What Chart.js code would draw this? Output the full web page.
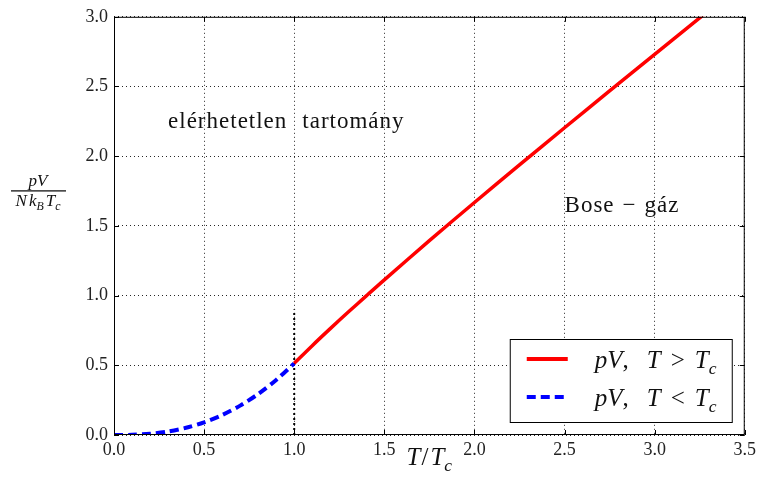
<!DOCTYPE html>
<html>
<head>
<meta charset="utf-8">
<script src="https://cdn.jsdelivr.net/npm/chart.js@4/dist/chart.umd.min.js"></script>
<style>
html,body{margin:0;padding:0;background:#fff;}
canvas{display:block;}
</style>
</head>
<body>
<canvas id="c" width="760" height="491"></canvas>
<script>
// ---- data ----
const tAbove = [1.0, 1.1, 1.2, 1.3, 1.4, 1.5, 1.75, 2.0, 2.25, 2.5, 2.75, 3.0, 3.25, 3.3];
const pAbove = [0.514, 0.641, 0.763, 0.882, 0.998, 1.113, 1.394, 1.668, 1.938, 2.204, 2.469, 2.731, 2.992, 3.044];
const tBelow = [0.0, 0.1, 0.2, 0.3, 0.4, 0.5, 0.6, 0.7, 0.8, 0.9, 1.0];
const pBelow = [0.0, 0.0016, 0.0092, 0.0253, 0.052, 0.0908, 0.1432, 0.2106, 0.294, 0.3947, 0.514];
const tcLineX = [1.0, 1.0];
const tcLineY = [0.0, 0.9];
const xTicks = [0.0, 0.5, 1.0, 1.5, 2.0, 2.5, 3.0, 3.5];
const yTicks = [0.0, 0.5, 1.0, 1.5, 2.0, 2.5, 3.0];
const legendOps = ['>', '<'];
const annot1 = {x: 0.3, y: 2.2, words: ['elérhetetlen', 'tartomány']};
const annot2 = {x: 2.5, y: 1.6, words: ['Bose', '−', 'gáz']};

const SERIF = '"Liberation Serif", "DejaVu Serif", serif';
const pts = (xs, ys) => xs.map((x, i) => ({x: x, y: ys[i]}));

function runFont(r, size) {
  const fs = r.sub ? size * 0.7 : size;
  return (r.it ? 'italic ' : '') + fs + 'px ' + SERIF;
}
function measureRuns(ctx, runs, size) {
  let w = 0;
  runs.forEach(r => {
    ctx.font = runFont(r, size);
    w += ctx.measureText(r.t).width + (r.pad || 0);
  });
  return w;
}
function drawRuns(ctx, runs, x, y, size) {
  let cx = x;
  runs.forEach(r => {
    ctx.font = runFont(r, size);
    const dy = r.sub ? size * 0.25 : 0;
    ctx.fillText(r.t, cx, y + dy);
    cx += ctx.measureText(r.t).width + (r.pad || 0);
  });
  return cx - x;
}

const decor = {
  id: 'decor',
  afterDatasetsDraw(chart) {
    const ctx = chart.ctx;
    const a = chart.chartArea;
    const xs = chart.scales.x, ys = chart.scales.y;
    ctx.save();
    // frame
    ctx.strokeStyle = '#000';
    ctx.lineWidth = 1;
    ctx.setLineDash([]);
    ctx.strokeRect(a.left + 0.5, a.top + 0.5, a.right - a.left - 1, a.bottom - a.top - 1);
    // inward ticks
    ctx.beginPath();
    xTicks.forEach(v => {
      const px = Math.round(xs.getPixelForValue(v)) + 0.5;
      ctx.moveTo(px, a.bottom); ctx.lineTo(px, a.bottom - 5);
      ctx.moveTo(px, a.top); ctx.lineTo(px, a.top + 5);
    });
    yTicks.forEach(v => {
      const py = Math.round(ys.getPixelForValue(v)) + 0.5;
      ctx.moveTo(a.left, py); ctx.lineTo(a.left + 5, py);
      ctx.moveTo(a.right, py); ctx.lineTo(a.right - 5, py);
    });
    ctx.stroke();

    ctx.fillStyle = '#111';
    ctx.textBaseline = 'alphabetic';
    ctx.textAlign = 'left';
    // annotations
    const fs = 23;
    ctx.font = fs + 'px ' + SERIF;
    ctx.letterSpacing = '1px';
    let x1 = xs.getPixelForValue(annot1.x), y1 = ys.getPixelForValue(annot1.y);
    ctx.fillText(annot1.words[0], x1, y1);
    x1 += ctx.measureText(annot1.words[0]).width + 15;
    ctx.fillText(annot1.words[1], x1, y1);
    let x2 = xs.getPixelForValue(annot2.x), y2 = ys.getPixelForValue(annot2.y);
    annot2.words.forEach(w => {
      ctx.fillText(w, x2, y2);
      x2 += ctx.measureText(w).width + 8;
    });
    ctx.letterSpacing = '0px';

    // x axis title T/T_c
    const xt = [{t:'T', it:true, pad:1},{t:'/', it:false, pad:2},{t:'T', it:true},{t:'c', it:true, sub:true}];
    const xtw = measureRuns(ctx, xt, 25);
    drawRuns(ctx, xt, (a.left + a.right) / 2 - xtw / 2, a.bottom + 30, 25);

    // y axis title: pV / (N k_B T_c)
    const cx = a.left - 76, barY = a.top + 174;
    const num = [{t:'pV', it:true}];
    const den = [{t:'N', it:true, pad:2},{t:'k', it:true, pad:0},{t:'B', it:true, sub:true, pad:2},{t:'T', it:true},{t:'c', it:true, sub:true}];
    const nw = measureRuns(ctx, num, 17);
    drawRuns(ctx, num, cx - nw / 2, barY - 5, 17);
    const dw = measureRuns(ctx, den, 17);
    drawRuns(ctx, den, cx - dw / 2, barY + 15, 17);
    ctx.fillStyle = '#000';
    ctx.fillRect(cx - 27, barY - 0.5, 55, 1.2);

    // legend
    const lx = a.right - 235, ly = a.bottom - 96, lw = 222, lh = 83;
    ctx.fillStyle = '#fff';
    ctx.fillRect(lx, ly, lw, lh);
    ctx.strokeStyle = '#000';
    ctx.lineWidth = 1;
    ctx.strokeRect(lx + 0.5, ly + 0.5, lw, lh);
    const rows = [
      {color: 'red', dash: [], y: ly + 20},
      {color: 'blue', dash: [9, 5], y: ly + 58}
    ];
    rows.forEach((r, i) => {
      ctx.strokeStyle = r.color;
      ctx.lineWidth = 4;
      ctx.setLineDash(r.dash);
      ctx.beginPath();
      ctx.moveTo(lx + 17, r.y);
      ctx.lineTo(lx + 58, r.y);
      ctx.stroke();
      ctx.setLineDash([]);
      ctx.fillStyle = '#111';
      const runs = [{t:'p', it:true},{t:'V', it:true},{t:',', it:false, pad:18},{t:'T', it:true, pad:10},{t:legendOps[i], it:false, pad:10},{t:'T', it:true},{t:'c', it:true, sub:true}];
      drawRuns(ctx, runs, lx + 85, r.y + 9, 25);
    });
    ctx.restore();
  }
};

new Chart(document.getElementById('c'), {
  type: 'line',
  data: {
    datasets: [
      {
        label: 'above',
        data: pts(tAbove, pAbove),
        borderColor: 'red',
        borderWidth: 3.5,
        pointRadius: 0,
        tension: 0.3,
        fill: false
      },
      {
        label: 'below',
        data: pts(tBelow, pBelow),
        borderColor: 'blue',
        borderWidth: 4,
        borderDash: [9, 5],
        pointRadius: 0,
        tension: 0.3,
        fill: false
      },
      {
        label: 'tc',
        data: pts(tcLineX, tcLineY),
        borderColor: '#000',
        borderWidth: 2,
        borderDash: [2, 3],
        pointRadius: 0,
        fill: false
      }
    ]
  },
  options: {
    responsive: false,
    animation: false,
    devicePixelRatio: 1,
    layout: {padding: {top: 14, right: 13, left: 0, bottom: 0}},
    plugins: {legend: {display: false}, tooltip: {enabled: false}},
    scales: {
      x: {
        type: 'linear',
        min: 0, max: 3.5,
        afterFit(s) { s.height = 56; },
        afterBuildTicks(s) { s.ticks = xTicks.map(v => ({value: v})); },
        ticks: {
          callback: v => v.toFixed(1),
          font: {family: SERIF, size: 18},
          color: '#222',
          padding: 4,
          maxRotation: 0,
          autoSkip: false
        },
        grid: {color: 'rgba(0,0,0,0.85)', lineWidth: 1, drawTicks: false},
        border: {display: false, dash: [1, 3]}
      },
      y: {
        type: 'linear',
        min: 0, max: 3,
        afterFit(s) { s.width = 114; },
        afterBuildTicks(s) { s.ticks = yTicks.map(v => ({value: v})); },
        ticks: {
          callback: v => v.toFixed(1),
          font: {family: SERIF, size: 18},
          color: '#222',
          padding: 6,
          autoSkip: false
        },
        grid: {color: 'rgba(0,0,0,0.85)', lineWidth: 1, drawTicks: false},
        border: {display: false, dash: [1, 3]}
      }
    }
  },
  plugins: [decor]
});
</script>
</body>
</html>
